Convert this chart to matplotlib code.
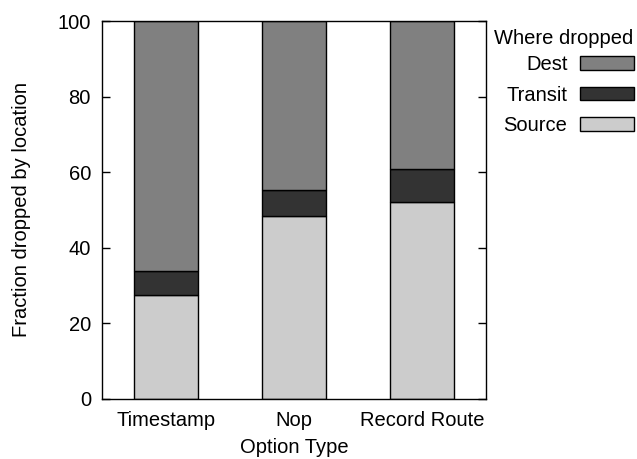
import matplotlib
matplotlib.use("Agg")
import matplotlib.pyplot as plt
import numpy as np
from matplotlib.patches import Patch

categories = ["Timestamp", "Nop", "Record Route"]
source = [27.5, 48.3, 52.1]
transit = [6.2, 6.9, 8.8]
dest = [66.3, 44.8, 39.1]
series_names = ["Dest", "Transit", "Source"]
colors = {"Source": "#cccccc", "Transit": "#333333", "Dest": "#808080"}

plt.rcParams['font.family'] = ['Liberation Sans', 'DejaVu Sans']
plt.rcParams['font.size'] = 14.5

fig = plt.figure(figsize=(6.37, 4.59), dpi=100)
ax = fig.add_axes([102/637, 1-398.5/459, (486-102)/637, (398.5-21.5)/459])

x = np.arange(len(categories))
w = 0.5
src = np.array(source); tr = np.array(transit); de = np.array(dest)
ax.bar(x, src, w, color=colors["Source"], edgecolor="black", linewidth=1.0)
ax.bar(x, tr, w, bottom=src, color=colors["Transit"], edgecolor="black", linewidth=1.0)
ax.bar(x, de, w, bottom=src+tr, color=colors["Dest"], edgecolor="black", linewidth=1.0)

ax.set_xlim(-0.5, 2.5)
ax.set_ylim(0, 100)
ax.set_xticks(x)
ax.set_xticklabels(categories)
ax.set_yticks([0, 20, 40, 60, 80, 100])
ax.tick_params(axis='x', length=0, pad=9)
ax.tick_params(axis='y', direction='in', length=6, width=1, right=True, pad=8)
for s in ax.spines.values():
    s.set_linewidth(1.0)
ax.set_ylabel("Fraction dropped by location", labelpad=19)
ax.set_xlabel("Option Type", labelpad=5.5)

fig.text(633/637, 1-38/459, "Where dropped", ha='right', va='center', fontsize=14.5)
handles = [Patch(facecolor=colors[n], edgecolor="black", linewidth=1.0) for n in series_names]
leg = fig.legend(handles, series_names, loc="upper right",
                 bbox_to_anchor=(644/637, 1-45/459), frameon=False, markerfirst=False,
                 borderpad=0, handlelength=2.7, handleheight=0.65, handletextpad=0.6,
                 labelspacing=0.57, fontsize=14.5)

fig.savefig("out.png", dpi=100)
